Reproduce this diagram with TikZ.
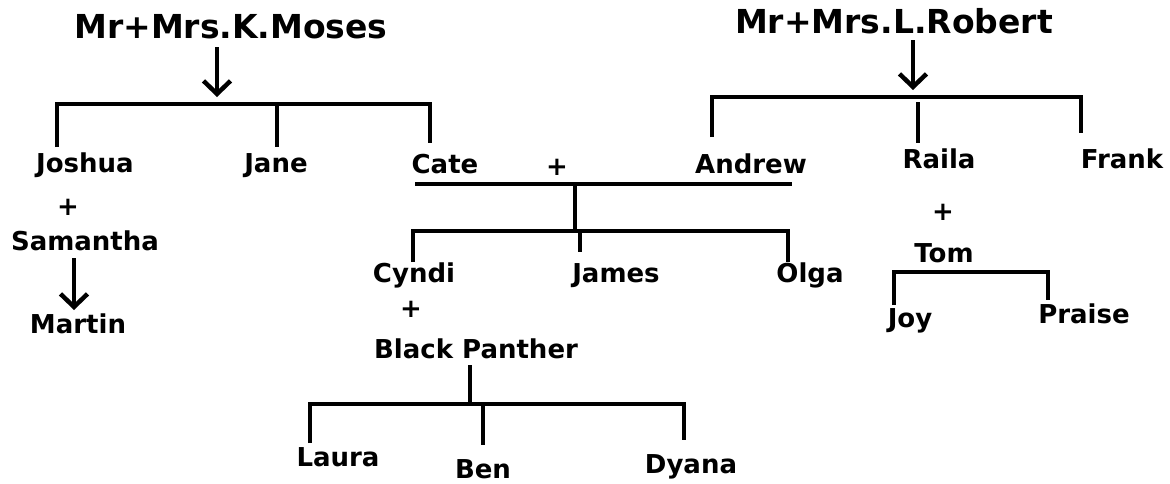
\documentclass[tikz,border=0pt]{standalone}
\usepackage{fontspec}
\setmainfont{DejaVu Sans}
\usetikzlibrary{arrows.meta}
\tikzset{
  title/.style={font=\fontsize{33}{38}\selectfont\bfseries, inner sep=0pt, anchor=base},
  person/.style={font=\fontsize{26}{30}\selectfont\bfseries, inner sep=0pt, anchor=base},
  plus/.style={font=\fontsize{26}{30}\selectfont\bfseries, inner sep=0pt, anchor=center},
  link/.style={line width=4.5pt, line join=miter, line cap=butt},
  arr/.style={link, -{Straight Barb[length=13pt, width=27pt, line width=4.5pt]}}
}
\begin{document}
\begin{tikzpicture}[x=1pt, y=-1pt]
\useasboundingbox (0,0) rectangle (1170,483);
% titles
\node[title] (moses) at (231,38) {Mr+Mrs.K.Moses};
\node[title] (robert) at (894,33) {Mr+Mrs.L.Robert};
% Moses children
\node[person] (joshua) at (85,172) {Joshua};
\node[person] (jane) at (276,172) {Jane};
\node[person] (cate) at (445,173) {Cate};
\node[plus] (p1) at (68,207) {+};
\node[person] (samantha) at (85,250) {Samantha};
\node[person] (martin) at (78,333) {Martin};
% couple
\node[plus] (p2) at (557,167) {+};
\node[person] (andrew) at (751,173) {Andrew};
\node[person] (raila) at (939,168) {Raila};
\node[person] (frank) at (1122,168) {Frank};
% Cate + Andrew children
\node[person] (cyndi) at (414,282) {Cyndi};
\node[person] (james) at (616,282) {James};
\node[person] (olga) at (810,282) {Olga};
\node[plus] (p3) at (411,309) {+};
\node[person] (panther) at (476,358) {Black Panther};
\node[person] (laura) at (338,466) {Laura};
\node[person] (ben) at (483,478) {Ben};
\node[person] (dyana) at (691,473) {Dyana};
% Raila + Tom
\node[plus] (p4) at (943,212) {+};
\node[person] (tom) at (944,262) {Tom};
\node[person] (joy) at (910,327) {Joy};
\node[person] (praise) at (1084,323) {Praise};

% coordinates
\coordinate (ma1) at (217,47);  \coordinate (ma2) at (217,97);
\coordinate (mb0) at (57,147);  \coordinate (mb1) at (57,104);
\coordinate (mb2) at (430,104); \coordinate (mb3) at (430,143);
\coordinate (mj1) at (277,104); \coordinate (mj2) at (277,147);
\coordinate (ra1) at (913,40);  \coordinate (ra2) at (913,90);
\coordinate (rb0) at (712,137); \coordinate (rb1) at (712,97);
\coordinate (rb2) at (1081,97); \coordinate (rb3) at (1081,133);
\coordinate (rr1) at (918,102); \coordinate (rr2) at (918,143);
\coordinate (sa1) at (74,258);  \coordinate (sa2) at (74,310);
\coordinate (cb1) at (415,184); \coordinate (cb2) at (792,184);
\coordinate (cv1) at (575,184); \coordinate (cv2) at (575,229);
\coordinate (kb0) at (413,262); \coordinate (kb1) at (413,231);
\coordinate (kb2) at (788,231); \coordinate (kb3) at (788,262);
\coordinate (kj1) at (580,231); \coordinate (kj2) at (580,252);
\coordinate (bv1) at (470,365); \coordinate (bv2) at (470,404);
\coordinate (gb0) at (310,443); \coordinate (gb1) at (310,404);
\coordinate (gb2) at (684,404); \coordinate (gb3) at (684,440);
\coordinate (gm1) at (483,404); \coordinate (gm2) at (483,445);
\coordinate (tb0) at (894,305); \coordinate (tb1) at (894,272);
\coordinate (tb2) at (1048,272); \coordinate (tb3) at (1048,300);

% connectors
\draw[arr] (ma1) -- (ma2);
\draw[link] (mb0) -- (mb1) -- (mb2) -- (mb3);
\draw[link] (mj1) -- (mj2);
\draw[arr] (ra1) -- (ra2);
\draw[link] (rb0) -- (rb1) -- (rb2) -- (rb3);
\draw[link] (rr1) -- (rr2);
\draw[arr] (sa1) -- (sa2);
\draw[link] (cb1) -- (cb2);
\draw[link] (cv1) -- (cv2);
\draw[link] (kb0) -- (kb1) -- (kb2) -- (kb3);
\draw[link] (kj1) -- (kj2);
\draw[link] (bv1) -- (bv2);
\draw[link] (gb0) -- (gb1) -- (gb2) -- (gb3);
\draw[link] (gm1) -- (gm2);
\draw[link] (tb0) -- (tb1) -- (tb2) -- (tb3);
\end{tikzpicture}
\end{document}
